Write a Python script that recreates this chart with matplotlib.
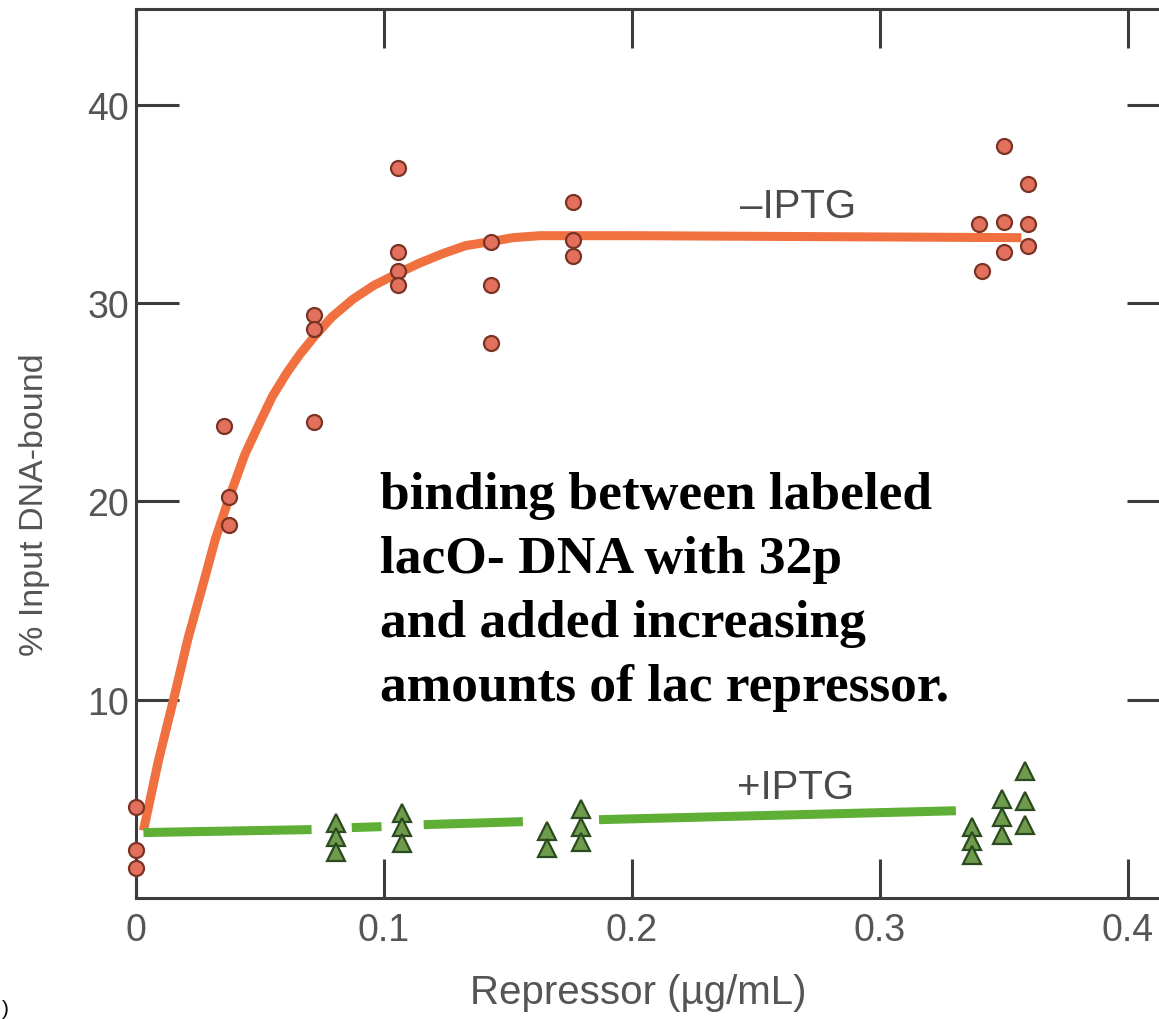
import numpy as np
import matplotlib
matplotlib.use("Agg")
import matplotlib.pyplot as plt

# ---------------- data ----------------
# -IPTG measurements (circles)
minus_x = [0.0, 0.0, 0.0,
           0.0355, 0.0375, 0.0375,
           0.0718, 0.0718, 0.0718,
           0.1056, 0.1056, 0.1056, 0.1056,
           0.1431, 0.1431, 0.1431,
           0.1762, 0.1762, 0.1762,
           0.340, 0.341,
           0.350, 0.350, 0.350,
           0.3597, 0.3597, 0.3597]
minus_y = [4.6, 2.4, 1.5,
           23.8, 20.2, 18.8,
           29.4, 28.7, 24.0,
           36.8, 32.6, 31.6, 30.9,
           33.1, 30.9, 28.0,
           35.1, 33.2, 32.4,
           34.0, 31.6,
           37.9, 34.1, 32.6,
           36.0, 34.0, 32.9]

# -IPTG fitted curve
minus_curve_x = [0.003, 0.009, 0.0157, 0.021, 0.027, 0.032, 0.0379, 0.044,
                 0.050, 0.055, 0.0609, 0.066, 0.0718, 0.079, 0.0875, 0.096,
                 0.1056, 0.114, 0.1238, 0.133, 0.1431, 0.152, 0.163, 0.20,
                 0.357]
minus_curve_y = [3.4, 6.9, 10.3, 13.1, 15.8, 18.1, 20.3, 22.4,
                 24.0, 25.3, 26.5, 27.4, 28.3, 29.3, 30.2, 30.9,
                 31.5, 32.0, 32.5, 32.9, 33.1, 33.3, 33.4, 33.4,
                 33.3]

# +IPTG measurements (triangles)
plus_x = [0.0806, 0.0806, 0.0806,
          0.1073, 0.1073, 0.1073,
          0.1657, 0.1657,
          0.1794, 0.1794, 0.1794,
          0.337, 0.337, 0.337,
          0.349, 0.349, 0.349,
          0.3585, 0.3585, 0.3585]
plus_y = [3.8, 3.07, 2.3,
          4.3, 3.57, 2.76,
          3.4, 2.5,
          4.5, 3.6, 2.8,
          3.57, 2.86, 2.16,
          4.97, 4.07, 3.2,
          6.4, 4.9, 3.7]

# +IPTG line, broken around the symbols (nan = gap)
plus_line_x = [0.003, 0.0708, np.nan, 0.087, 0.099, np.nan,
               0.116, 0.156, np.nan, 0.1867, 0.3306]
plus_line_y = [3.3, 3.45, np.nan, 3.55, 3.6, np.nan,
               3.7, 3.85, np.nan, 3.95, 4.4]

x_ticks = [0, 0.1, 0.2, 0.3, 0.4]
x_ticklabels = ["0", "0.1", "0.2", "0.3", "0.4"]
y_ticks = [10, 20, 30, 40]
y_ticklabels = ["10", "20", "30", "40"]

note_lines = ["binding between labeled",
              "lacO- DNA with 32p",
              "and added increasing",
              "amounts of lac repressor."]

# ---------------- figure ----------------
W, H = 1159, 1020
fig = plt.figure(figsize=(W / 100, H / 100), dpi=100)
fig.patch.set_facecolor("white")

left_px, right_px, top_px, bottom_px = 136, 1170, 10, 899
PX_X, PX_Y = 2480, 19.83
ax = fig.add_axes([left_px / W, 1 - bottom_px / H,
                   (right_px - left_px) / W, (bottom_px - top_px) / H])
ax.set_xlim(0, (right_px - left_px) / PX_X)
ax.set_ylim(0, (bottom_px - top_px) / PX_Y)

spine_c = "#3c3c3c"
label_c = "#555555"
for s in ax.spines.values():
    s.set_color(spine_c)
    s.set_linewidth(2.2)

sans = ["Liberation Sans", "DejaVu Sans"]

ax.set_xticks(x_ticks)
ax.set_xticklabels(x_ticklabels, family=sans, fontsize=27, color=label_c)
ax.set_yticks(y_ticks)
ax.set_yticklabels(y_ticklabels, family=sans, fontsize=27, color=label_c)
ax.tick_params(axis="x", direction="in", length=28, width=2.2, color=spine_c,
               top=True, bottom=True, pad=10)
ax.tick_params(axis="y", direction="in", length=31, width=2.2, color=spine_c,
               left=True, right=True, pad=5)

ax.set_xlabel("Repressor (\u00b5g/mL)", family=sans, fontsize=29,
              color=label_c)
ax.xaxis.label.set_va("center")
ax.xaxis.set_label_coords((638 - left_px) / (right_px - left_px),
                          (bottom_px - 993) / (bottom_px - top_px))
ax.set_ylabel("% Input DNA-bound", family=sans, fontsize=24.5,
              color=label_c)
ax.yaxis.label.set_va("center")
ax.yaxis.set_label_coords((35 - left_px) / (right_px - left_px),
                          (bottom_px - 505) / (bottom_px - top_px))

# lines
ax.plot(minus_curve_x, minus_curve_y, color="#f0703f", lw=6.5,
        solid_capstyle="butt", solid_joinstyle="round", zorder=2)
ax.plot(plus_line_x, plus_line_y, color="#5fae35", lw=6.5,
        solid_capstyle="butt", zorder=2)

# markers
ax.plot(minus_x, minus_y, ls="none", marker="o", ms=10.8,
        mfc="#e2705c", mec="#7a3426", mew=1.6, zorder=4, clip_on=False)
ax.plot(plus_x, plus_y, ls="none", marker="^", ms=12.5,
        mfc="#6e9c4c", mec="#2b4a1f", mew=1.6, zorder=4, clip_on=False)

# curve labels
ax.text((798 - left_px) / PX_X, (bottom_px - 207) / PX_Y, "\u2013IPTG",
        family=sans, fontsize=29, color="#4a4a4a", ha="center", va="center")
ax.text((796 - left_px) / PX_X, (bottom_px - 788) / PX_Y, "+IPTG",
        family=sans, fontsize=29, color="#4a4a4a", ha="center", va="center")

# annotation text
serif = ["Liberation Serif", "DejaVu Serif"]
x_note = (380 - left_px) / PX_X
for i, line in enumerate(note_lines):
    base_px = 509 + 64 * i
    ax.text(x_note, (bottom_px - base_px) / PX_Y, line, family=serif,
            fontweight="bold", fontsize=38.5, color="black",
            ha="left", va="baseline", zorder=5)

# stray glyph at bottom-left corner of the scan
fig.text(0.002, 0.001, ")", family=sans, fontsize=15, color="black",
         ha="left", va="bottom")

fig.savefig("out.png", dpi=100, facecolor="white")
